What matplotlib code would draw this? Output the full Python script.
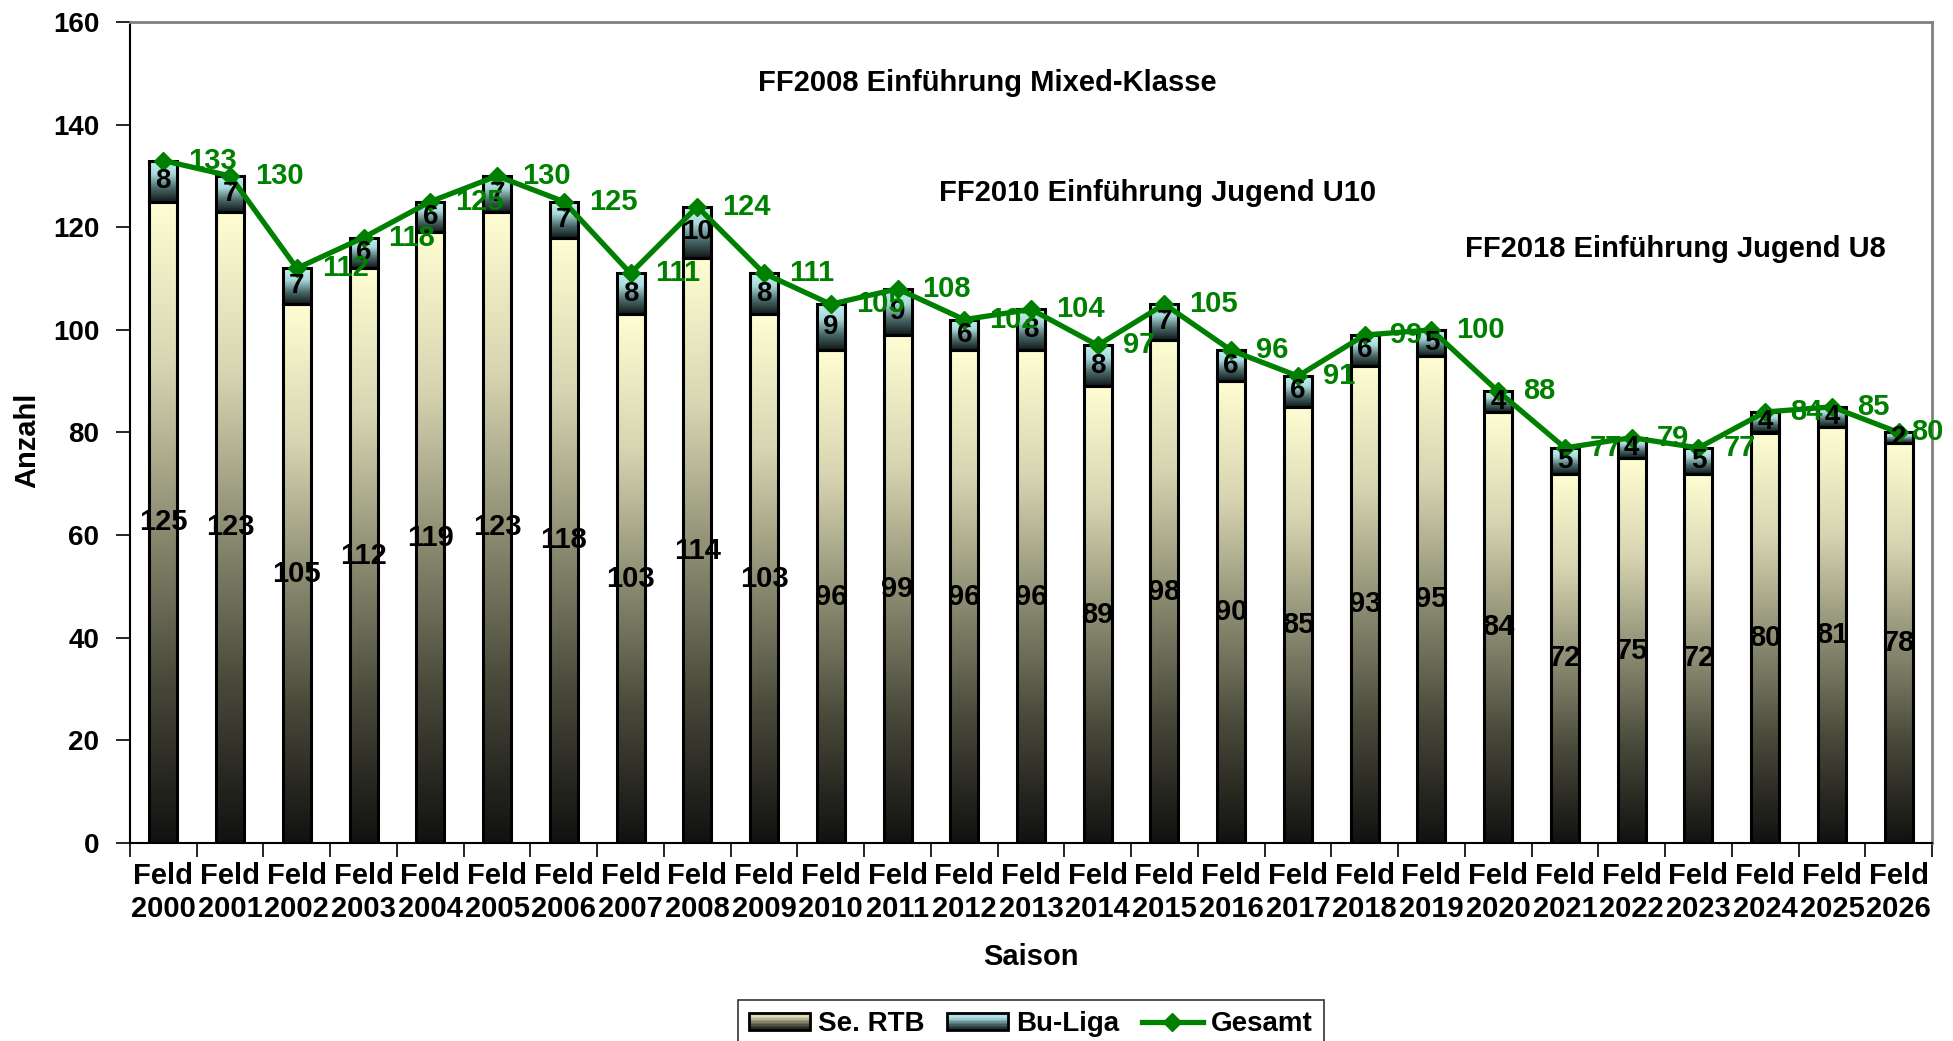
import numpy as np
import matplotlib
matplotlib.use("Agg")
import matplotlib.pyplot as plt
from matplotlib.colors import LinearSegmentedColormap
from matplotlib.legend_handler import HandlerBase
from matplotlib.patches import Rectangle
from matplotlib.lines import Line2D

plt.rcParams['font.family'] = ['Liberation Sans', 'DejaVu Sans']
plt.rcParams['font.weight'] = 'bold'

years = list(range(2000, 2027))
categories = [f"Feld\n{y}" for y in years]
se_rtb = [125, 123, 105, 112, 119, 123, 118, 103, 114, 103, 96, 99, 96, 96, 89,
          98, 90, 85, 93, 95, 84, 72, 75, 72, 80, 81, 78]
bu_liga = [8, 7, 7, 6, 6, 7, 7, 8, 10, 8, 9, 9, 6, 8, 8, 7, 6, 6, 6, 5, 4, 5, 4,
           5, 4, 4, 2]
gesamt = [133, 130, 112, 118, 125, 130, 125, 111, 124, 111, 105, 108, 102, 104,
          97, 105, 96, 91, 99, 100, 88, 77, 79, 77, 84, 85, 80]
notes = ["FF2008 Einführung Mixed-Klasse", "FF2010 Einführung Jugend U10",
         "FF2018 Einführung Jugend U8"]
note_pos = [(12.35, 148.2), (14.9, 126.7), (22.65, 115.8)]

cmap_rtb = LinearSegmentedColormap.from_list(
    "rtb", ["#111110", "#48483a", "#8e8e74", "#d8d6b2", "#fffdd2"])
cmap_bu = LinearSegmentedColormap.from_list(
    "bu", ["#101818", "#4a6868", "#a8d8da", "#c8f4f6"])

W, H = 1953, 1041
fig = plt.figure(figsize=(W / 100, H / 100), dpi=100)
ax = fig.add_axes([130 / W, 1 - 843 / H, (1932 - 130) / W, (843 - 22) / H])

x = np.arange(len(years))
width = 0.42
grad = np.linspace(0, 1, 256).reshape(-1, 1)

bars1 = ax.bar(x, se_rtb, width, facecolor='none', edgecolor='black',
               linewidth=2.2, zorder=3, label='Se. RTB')
bars2 = ax.bar(x, bu_liga, width, bottom=se_rtb, facecolor='none',
               edgecolor='black', linewidth=2.2, zorder=3, label='Bu-Liga')
for bars, cm in ((bars1, cmap_rtb), (bars2, cmap_bu)):
    for r in bars:
        x0, y0, w, h = r.get_x(), r.get_y(), r.get_width(), r.get_height()
        ax.imshow(grad, cmap=cm, origin='lower', aspect='auto',
                  extent=[x0, x0 + w, y0, y0 + h], zorder=2,
                  interpolation='bilinear')

for i in range(len(years)):
    ax.text(x[i], se_rtb[i] / 2, str(se_rtb[i]), ha='center', va='center',
            fontsize=21, fontweight='bold', color='black', zorder=6)
    ax.text(x[i], se_rtb[i] + bu_liga[i] / 2, str(bu_liga[i]), ha='center',
            va='center', fontsize=20, fontweight='bold', color='black', zorder=6)

ax.plot(x, gesamt, color='#008000', linewidth=3.8, marker='D', markersize=9,
        zorder=5, label='Gesamt')
for i in range(len(years)):
    off = 18 if i < len(years) - 1 else 9
    ax.annotate(str(gesamt[i]), (x[i], gesamt[i]), xytext=(off, 0),
                textcoords='offset points', ha='left', va='center',
                fontsize=21, fontweight='bold', color='#008000', zorder=7)

for t, (px, py) in zip(notes, note_pos):
    ax.text(px, py, t, ha='center', va='center', fontsize=21,
            fontweight='bold', color='black')

ax.set_xlim(-0.5, len(years) - 0.5)
ax.set_ylim(0, 160)
ax.set_yticks(np.arange(0, 161, 20))
ax.set_xticks(x)
ax.set_xticklabels(categories, fontsize=21, fontweight='bold', linespacing=1.2)
ax.set_xticks(np.arange(-0.5, len(years), 1), minor=True)
ax.tick_params(axis='x', which='major', length=0, pad=14)
ax.tick_params(axis='x', which='minor', length=10, width=1.2, direction='out')
ax.tick_params(axis='y', length=10, width=1.2, direction='out', labelsize=20,
               pad=12)
for lab in ax.get_yticklabels():
    lab.set_fontweight('bold')
ax.spines['left'].set_linewidth(1.5)
ax.spines['bottom'].set_linewidth(1.5)
ax.spines['top'].set_color('#808080')
ax.spines['right'].set_color('#808080')
ax.spines['top'].set_linewidth(2)
ax.spines['right'].set_linewidth(2)

fig.text(27 / W, 1 - 440 / H, 'Anzahl', rotation=90, ha='center', va='center',
         fontsize=21, fontweight='bold')
fig.text((130 + 1932) / 2 / W, 1 - 957 / H, 'Saison', ha='center',
         va='center', fontsize=21, fontweight='bold')


class GradHandler(HandlerBase):
    def __init__(self, cmap):
        super().__init__()
        self.cmap = cmap

    def create_artists(self, legend, orig_handle, xdescent, ydescent, width,
                       height, fontsize, trans):
        arts = []
        n = 12
        for k in range(n):
            arts.append(Rectangle((-xdescent, -ydescent + height * k / n),
                                  width, height / n + 0.2,
                                  facecolor=self.cmap((k + 0.5) / n),
                                  edgecolor='none', transform=trans))
        arts.append(Rectangle((-xdescent, -ydescent), width, height,
                              facecolor='none', edgecolor='black',
                              linewidth=2, transform=trans))
        return arts


h1 = Rectangle((0, 0), 1, 1)
h2 = Rectangle((0, 0), 1, 1)
h3 = Line2D([], [], color='#008000', linewidth=3.8, marker='D', markersize=9)
leg = fig.legend([h1, h2, h3], ['Se. RTB', 'Bu-Liga', 'Gesamt'],
                 loc='upper center', bbox_to_anchor=(1031 / W, 1 - 1000 / H),
                 borderaxespad=0, ncol=3, frameon=True, fancybox=False,
                 edgecolor='black', fontsize=20, handlelength=2.2,
                 handleheight=0.6, columnspacing=0.8, handletextpad=0.3,
                 borderpad=0.4,
                 handler_map={h1: GradHandler(cmap_rtb),
                              h2: GradHandler(cmap_bu)})
for t in leg.get_texts():
    t.set_fontweight('bold')
leg.get_frame().set_linewidth(1.2)

fig.savefig('out.png', dpi=100)
